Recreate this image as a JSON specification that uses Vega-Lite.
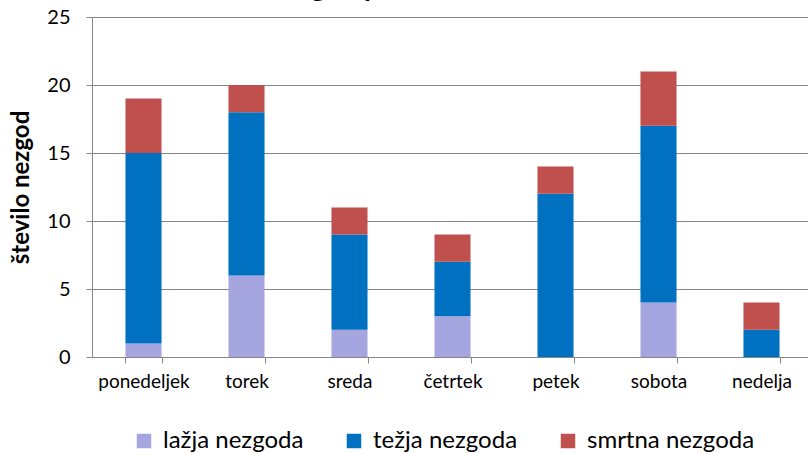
{
  "$schema": "https://vega.github.io/schema/vega-lite/v6.json",
  "autosize": "none",
  "width": 716,
  "height": 340,
  "padding": {"left": 92, "top": 17, "right": 0, "bottom": 96},
  "background": "white",
  "title": {
    "text": "Število nezgod po dnevih v tednu",
    "font": "Lato",
    "fontSize": 28,
    "fontWeight": "bold",
    "color": "#000000",
    "anchor": "middle",
    "frame": "group",
    "baseline": "alphabetic",
    "offset": -17,
    "dx": -69
  },
  "config": {
    "view": {"stroke": null},
    "font": "Lato"
  },
  "data": {
    "values": [
      {"dan": "ponedeljek", "vrsta": "lažja nezgoda", "o": 1, "n": 1},
      {"dan": "ponedeljek", "vrsta": "težja nezgoda", "o": 2, "n": 14},
      {"dan": "ponedeljek", "vrsta": "smrtna nezgoda", "o": 3, "n": 4},
      {"dan": "torek", "vrsta": "lažja nezgoda", "o": 1, "n": 6},
      {"dan": "torek", "vrsta": "težja nezgoda", "o": 2, "n": 12},
      {"dan": "torek", "vrsta": "smrtna nezgoda", "o": 3, "n": 2},
      {"dan": "sreda", "vrsta": "lažja nezgoda", "o": 1, "n": 2},
      {"dan": "sreda", "vrsta": "težja nezgoda", "o": 2, "n": 7},
      {"dan": "sreda", "vrsta": "smrtna nezgoda", "o": 3, "n": 2},
      {"dan": "četrtek", "vrsta": "lažja nezgoda", "o": 1, "n": 3},
      {"dan": "četrtek", "vrsta": "težja nezgoda", "o": 2, "n": 4},
      {"dan": "četrtek", "vrsta": "smrtna nezgoda", "o": 3, "n": 2},
      {"dan": "petek", "vrsta": "lažja nezgoda", "o": 1, "n": 0},
      {"dan": "petek", "vrsta": "težja nezgoda", "o": 2, "n": 12},
      {"dan": "petek", "vrsta": "smrtna nezgoda", "o": 3, "n": 2},
      {"dan": "sobota", "vrsta": "lažja nezgoda", "o": 1, "n": 4},
      {"dan": "sobota", "vrsta": "težja nezgoda", "o": 2, "n": 13},
      {"dan": "sobota", "vrsta": "smrtna nezgoda", "o": 3, "n": 4},
      {"dan": "nedelja", "vrsta": "lažja nezgoda", "o": 1, "n": 0},
      {"dan": "nedelja", "vrsta": "težja nezgoda", "o": 2, "n": 2},
      {"dan": "nedelja", "vrsta": "smrtna nezgoda", "o": 3, "n": 2}
    ]
  },
  "mark": {"type": "bar"},
  "encoding": {
    "x": {
      "field": "dan",
      "type": "nominal",
      "sort": ["ponedeljek", "torek", "sreda", "četrtek", "petek", "sobota", "nedelja"],
      "scale": {"range": [0, 721], "paddingInner": 0.65, "paddingOuter": 0.325},
      "axis": {
        "title": null,
        "labelAngle": 0,
        "labelFont": "Lato",
        "labelFontSize": 19,
        "labelColor": "#000000",
        "labelPadding": 9,
        "tickBand": "extent",
        "tickSize": 6,
        "tickColor": "#868686",
        "domainColor": "#868686",
        "grid": false
      }
    },
    "y": {
      "field": "n",
      "type": "quantitative",
      "stack": "zero",
      "scale": {"domain": [0, 25], "nice": false},
      "axis": {
        "values": [0, 5, 10, 15, 20, 25],
        "title": "število nezgod",
        "titleFont": "Lato",
        "titleFontSize": 24,
        "titleFontWeight": "bold",
        "titleColor": "#000000",
        "titlePadding": 13,
        "labelFont": "Lato",
        "labelFontSize": 20,
        "labelColor": "#000000",
        "labelPadding": 16,
        "tickSize": 6,
        "tickColor": "#868686",
        "domainColor": "#868686",
        "gridColor": "#868686",
        "gridWidth": 1
      }
    },
    "color": {
      "field": "vrsta",
      "type": "nominal",
      "sort": ["lažja nezgoda", "težja nezgoda", "smrtna nezgoda"],
      "scale": {
        "domain": ["lažja nezgoda", "težja nezgoda", "smrtna nezgoda"],
        "range": ["#A5A5DF", "#0070C0", "#C0504D"]
      },
      "legend": {
        "title": null,
        "orient": "none",
        "direction": "horizontal",
        "legendX": 40,
        "legendY": 412,
        "symbolType": "square",
        "symbolSize": 210,
        "symbolStrokeWidth": 0,
        "labelFont": "Lato",
        "labelFontSize": 24,
        "labelLimit": 400,
        "labelColor": "#000000",
        "labelOffset": 7,
        "columnPadding": 38
      }
    },
    "order": {"field": "o", "type": "quantitative"}
  }
}
